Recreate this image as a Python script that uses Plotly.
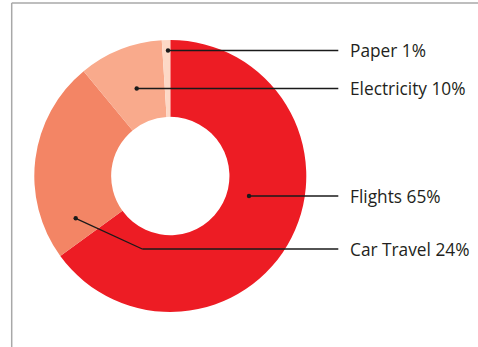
import plotly.graph_objects as go

categories = ["Flights", "Car Travel", "Electricity", "Paper"]
values = [65, 24, 10, 1]
colors = ["#ed1c24", "#f38565", "#f9aa8c", "#fdd8c6"]
label_texts = ["Flights 65%", "Car Travel 24%", "Electricity 10%", "Paper 1%"]

W, H = 478, 347

def px(x):
    return x / W

def py(y):
    return 1 - y / H

# leader layouts (pixel positions): dot, optional bend, label y
leaders = {
    "Paper": dict(dot=(168, 50.5), bend=None, y=50.5),
    "Electricity": dict(dot=(136.7, 88.5), bend=None, y=88.5),
    "Flights": dict(dot=(249, 196), bend=None, y=196),
    "Car Travel": dict(dot=(75.7, 218.3), bend=(142.3, 249), y=249),
}
line_end_x = 338.3
text_x = 347.5

fig = go.Figure(go.Pie(
    labels=categories,
    values=values,
    hole=0.435,
    sort=False,
    direction="clockwise",
    rotation=0,
    marker=dict(colors=colors, line=dict(width=0)),
    textinfo="none",
    hoverinfo="label+percent",
    showlegend=False,
    domain=dict(x=[px(34.3), px(306.3)], y=[py(312), py(40)]),
))

shapes = []
annotations = []
for cat, txt in zip(categories, label_texts):
    L = leaders[cat]
    dx, dy = L["dot"]
    pts = [L["dot"]]
    if L["bend"]:
        pts.append(L["bend"])
    pts.append((line_end_x, L["y"]))
    for (x0, y0), (x1, y1) in zip(pts[:-1], pts[1:]):
        shapes.append(dict(type="line", xref="paper", yref="paper",
                           x0=px(x0), y0=py(y0), x1=px(x1), y1=py(y1),
                           line=dict(color="#1a1a1a", width=1.3)))
    r = 2.2
    shapes.append(dict(type="circle", xref="paper", yref="paper",
                       x0=px(dx - r), y0=py(dy - r), x1=px(dx + r), y1=py(dy + r),
                       fillcolor="#1a1a1a", line=dict(width=0)))
    annotations.append(dict(text=txt, xref="paper", yref="paper",
                            x=px(text_x), y=py(L["y"]), xanchor="left", yanchor="middle",
                            showarrow=False,
                            font=dict(family="Open Sans", size=17.3, color="#231f20")))

# frame lines (top and left)
shapes.append(dict(type="line", xref="paper", yref="paper",
                   x0=px(11.7), y0=py(3), x1=1, y1=py(3),
                   line=dict(color="#a8a8a8", width=1.5)))
shapes.append(dict(type="line", xref="paper", yref="paper",
                   x0=px(11.7), y0=py(3), x1=px(11.7), y1=0,
                   line=dict(color="#a8a8a8", width=1.5)))

fig.update_layout(
    width=W, height=H,
    margin=dict(l=0, r=0, t=0, b=0),
    paper_bgcolor="white",
    plot_bgcolor="white",
    shapes=shapes,
    annotations=annotations,
)

fig.write_html("out.html")
